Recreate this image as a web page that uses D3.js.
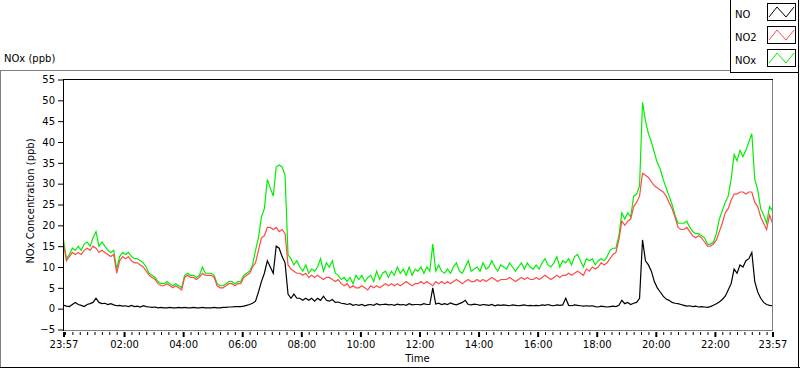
<!DOCTYPE html>
<html>
<head>
<meta charset="utf-8">
<script src="https://cdnjs.cloudflare.com/ajax/libs/d3/7.8.5/d3.min.js"></script>
<style>
body { margin: 0; background: #fff; }
svg { display: block; font-family: "DejaVu Sans", sans-serif; font-size: 10px; }
</style>
</head>
<body>
<svg id="chart" width="800" height="369"></svg>
<script>

// one reading every 6 minutes from 23:57, one row per hour
let no_values = [
  0.8, 0.6, 0.5, 1, 1.5, 1, 0.8, 0.5, 1, 1.2,
  1.5, 2.5, 1.5, 1.2, 1.3, 1, 1.2, 0.9, 0.7, 0.8,
  0.6, 0.7, 0.5, 0.8, 0.5, 0.6, 0.4, 0.7, 0.5, 0.4,
  0.3, 0.4, 0.2, 0.3, 0.2, 0.2, 0.3, 0.2, 0.2, 0.3,
  0.2, 0.3, 0.2, 0.2, 0.3, 0.2, 0.2, 0.3, 0.2, 0.2,
  0.2, 0.3, 0.2, 0.2, 0.3, 0.3, 0.4, 0.4, 0.5, 0.5,
  0.5, 0.6, 0.8, 1, 1.3, 1.8, 4, 6.5, 8.5, 11.5,
  10, 8.5, 15, 14.5, 12.5, 11, 3.5, 2.5, 3.5, 2.5,
  2.5, 2, 2.5, 2, 2.5, 1.8, 2.5, 2, 3, 2,
  1.8, 2.2, 1.5, 1.6, 1.3, 1.2, 1, 1.2, 0.8, 1,
  0.8, 1, 0.7, 0.9, 1, 0.8, 1.2, 0.9, 1, 1.1,
  0.9, 1, 0.8, 1.1, 0.9, 1, 0.8, 1.2, 0.9, 1,
  1, 0.9, 1.2, 1, 1, 5, 1.1, 1.3, 1, 1.2,
  1, 1.4, 1.1, 0.9, 1.2, 1.5, 2, 1, 0.9, 1.1,
  1, 0.8, 1, 0.9, 0.8, 1, 0.7, 0.9, 0.8, 0.9,
  0.8, 0.7, 0.9, 0.8, 0.7, 0.8, 0.9, 0.7, 0.8, 0.7,
  0.8, 0.7, 0.9, 0.8, 1, 0.8, 0.7, 0.9, 0.8, 0.9,
  2.5, 0.8, 0.7, 0.9, 0.8, 0.7, 0.6, 0.7, 0.6, 0.7,
  0.5, 0.4, 0.6, 0.5, 0.4, 0.5, 0.6, 0.5, 0.8, 2,
  1.2, 1.5, 1, 1.3, 1.5, 2.5, 16.5, 11.5, 10.5, 9,
  6.5, 5, 4, 3, 2.3, 2, 1.5, 1.3, 1.2, 1,
  0.8, 0.6, 0.7, 0.5, 0.6, 0.4, 0.5, 0.4, 0.3, 0.5,
  0.8, 1.2, 1.6, 2.2, 3, 4.5, 6, 9.5, 8.5, 10.5,
  10, 11.5, 12, 13.5, 6.5, 4, 2.5, 1.5, 1, 0.8,
  0.7
]

let no2_values = [
  15.5, 11.5, 12.5, 13.5, 13, 13.5, 13, 14, 14.5, 14,
  15, 14.5, 13.5, 14, 13.5, 13, 12.5, 13, 8.5, 11.5,
  12.5, 12, 12.5, 11.5, 11, 11, 10.5, 10, 9, 8,
  7.5, 7, 6, 5.5, 5.5, 6, 5.5, 5, 5.5, 5,
  4.5, 7.5, 8, 7.5, 7.5, 7, 7.5, 8.5, 8, 8,
  8, 7.5, 5.5, 5, 5, 5.5, 6, 6, 5.5, 6,
  6, 7.5, 8, 8.5, 10, 11, 14, 17, 17.5, 19.5,
  19.5, 19, 19.5, 18.5, 19, 18, 10.5, 9.5, 9, 8.5,
  8.5, 8, 8.5, 7.5, 8, 7.5, 8, 7.5, 7, 7.5,
  7.5, 7, 6.5, 7, 6, 5.5, 6, 5, 5.5, 5,
  5, 5.5, 5, 4.5, 5.5, 5, 5.5, 5, 5.5, 6,
  5.5, 6, 5.5, 6, 5.5, 6, 6.5, 6, 5.5, 6,
  6, 6.5, 6, 6.5, 6, 5.5, 6.5, 6, 6.5, 6,
  6.5, 6, 6.5, 7, 6.5, 6, 6.5, 7, 6.5, 6.5,
  7, 6.5, 7, 6.5, 7, 7.5, 7, 6.5, 7, 7,
  7, 7.5, 7, 6.5, 7, 7.5, 7, 7.5, 7, 7,
  7.5, 7, 7.5, 8, 7.5, 7, 7.5, 8, 7.5, 8,
  8, 8.5, 8, 8.5, 9, 8.5, 8, 9.5, 9, 10,
  9.5, 10, 11, 10.5, 11, 12, 13, 13.5, 16.5, 21,
  20, 21, 21.5, 24.5, 25.5, 27, 32.5, 32, 31.5, 30.5,
  29.5, 29, 28.5, 28, 27, 25.5, 24, 22, 19.5, 19,
  19, 19.5, 18.5, 17.5, 17, 17.5, 17, 16, 15, 15,
  15.5, 16.5, 18.5, 20.5, 23, 24, 26, 27.5, 27.5, 28,
  28, 27.5, 28, 28, 25.5, 24.5, 22, 20.5, 19, 22.5,
  20.5
]

let nox_values = [
  16.5, 12, 13, 14.5, 14, 15, 14, 15.5, 16, 15,
  17, 18.5, 15, 16, 15, 14, 13.5, 14, 9.5, 12.5,
  13.5, 13, 13.5, 12.5, 12, 12, 11.5, 11, 10, 8.5,
  8, 7.5, 6.5, 6, 6, 6.5, 6, 5.5, 6, 5.5,
  5, 8, 8.5, 8, 8, 7.5, 8, 10, 8.5, 8.5,
  8.5, 8, 6, 5.5, 5.5, 6, 6.5, 6.5, 6, 6.5,
  6.5, 8, 8.5, 9, 10.5, 14, 17, 22, 24, 31,
  29, 27, 34, 34.5, 34, 32, 13, 12, 10.5, 11.5,
  10, 9, 10.5, 8.5, 9.5, 9, 10, 12, 9, 11,
  10, 11.5, 8.5, 8, 7, 7.5, 6.5, 7.5, 6, 8,
  7, 8, 6.5, 7.5, 8, 6.5, 9, 7, 8.5, 9,
  7.5, 9, 8, 10, 8.5, 9.5, 8, 10, 8, 9.5,
  9, 10, 8.5, 10, 9, 15.5, 9, 10.5, 9, 8.5,
  9.5, 8.5, 10, 11, 9, 8.5, 10, 11.5, 9, 9.5,
  10, 9, 11, 9.5, 10, 11.5, 10, 9, 10.5, 10,
  9.5, 11, 10, 9, 10, 11, 9.5, 11, 10, 9.5,
  10.5, 9.5, 11, 12, 10.5, 10, 11, 12.5, 10, 11.5,
  11, 12, 10.5, 12.5, 13, 11.5, 10, 12, 11.5, 12,
  10.5, 11.5, 12, 11.5, 12.5, 14, 14.5, 14.5, 17.5, 23,
  21.5, 23, 22, 27, 27.5, 29.5, 49.5, 45, 42, 40,
  37.5, 35, 33.5, 31, 29, 27, 25, 22.5, 20.5, 20.5,
  20.5, 21, 19.5, 18.5, 18, 18, 17.5, 17, 15.5, 15.5,
  16, 18, 21.5, 23.5, 25.5, 27, 31, 37, 35.5, 38,
  36.5, 38, 40, 42, 31, 28.5, 24, 22.5, 20.5, 24.5,
  23.5
]

let series_names = ["NO", "NO2", "NOx"]
let series_colors = ["#000000", "#ff4a4a", "#00ee00"]

let y_ticks = [-5, 0, 5, 10, 15, 20, 25, 30, 35, 40, 45, 50, 55]
let x_tick_labels = ["23:57", "02:00", "04:00", "06:00", "08:00", "10:00", "12:00",
  "14:00", "16:00", "18:00", "20:00", "22:00", "23:57"]

let step_minutes = 6

let svg = d3.select("#chart")

let plot_left = 63, plot_right = 772, plot_top = 79, plot_bottom = 330

let start_time = new Date(2024, 0, 1, 23, 57)
let end_time = new Date(2024, 0, 2, 23, 57)

let times = no_values.map((d, i) => d3.timeMinute.offset(start_time, i * step_minutes))

let x = d3.scaleTime().domain([start_time, end_time]).range([plot_left + 0.5, plot_right + 0.5])
let y = d3.scaleLinear().domain([-5, 55]).range([plot_bottom - 0.5, plot_top + 0.5])

// outer frame and legend box
svg.append("line").attr("x1", 0).attr("x2", 730).attr("y1", 70.5).attr("y2", 70.5).attr("stroke", "#808080")
svg.append("line").attr("x1", 0.5).attr("x2", 0.5).attr("y1", 70).attr("y2", 368).attr("stroke", "#808080")
svg.append("line").attr("x1", 0).attr("x2", 800).attr("y1", 367.5).attr("y2", 367.5).attr("stroke", "#000")
svg.append("line").attr("x1", 798.5).attr("x2", 798.5).attr("y1", 0).attr("y2", 368).attr("stroke", "#000")
svg.append("line").attr("x1", 730.5).attr("x2", 730.5).attr("y1", 0).attr("y2", 73).attr("stroke", "#000")
svg.append("line").attr("x1", 730).attr("x2", 799).attr("y1", 72.5).attr("y2", 72.5).attr("stroke", "#000")

svg.append("text").attr("x", 4).attr("y", 62).text("NOx (ppb)")

// plot area border
svg.append("line").attr("x1", plot_left).attr("x2", plot_right + 1).attr("y1", plot_top + 0.5).attr("y2", plot_top + 0.5).attr("stroke", "#000")
svg.append("line").attr("x1", plot_left + 0.5).attr("x2", plot_left + 0.5).attr("y1", plot_top).attr("y2", plot_bottom + 1).attr("stroke", "#000")
svg.append("line").attr("x1", plot_right + 0.5).attr("x2", plot_right + 0.5).attr("y1", plot_top + 1).attr("y2", plot_bottom + 1).attr("stroke", "#808080")
svg.append("line").attr("x1", plot_left + 1).attr("x2", plot_right + 1).attr("y1", plot_bottom + 0.5).attr("y2", plot_bottom + 0.5).attr("stroke", "#808080")

// axes
let y_axis = svg.append("g")
  .attr("transform", "translate(" + plot_left + ",0)")
  .call(d3.axisLeft(y).tickValues(y_ticks).tickSize(5).tickPadding(3))
y_axis.select(".domain").remove()
y_axis.selectAll("text").attr("font-family", "DejaVu Sans").attr("font-size", 10).attr("fill", "#000")

let x_tick_dates = x_tick_labels.map((s, i) => {
  let p = s.split(":")
  return new Date(2024, 0, i == 0 ? 1 : 2, +p[0], +p[1])
})

let minor_dates = d3.timeMinute.every(15).range(start_time, end_time)
  .filter(d => x_tick_dates.every(m => Math.abs(m - d) > 60000 * 2))

let x_minor = svg.append("g")
  .attr("transform", "translate(0," + (plot_bottom + 2) + ")")
  .call(d3.axisBottom(x).tickValues(minor_dates).tickSize(3).tickFormat(""))
x_minor.select(".domain").remove()

let x_axis = svg.append("g")
  .attr("transform", "translate(0," + (plot_bottom + 2) + ")")
  .call(d3.axisBottom(x).tickValues(x_tick_dates).tickSize(5).tickFormat((d, i) => x_tick_labels[i]))
x_axis.select(".domain").remove()
x_axis.selectAll("line").attr("stroke-width", 2)
x_axis.selectAll("text").attr("y", 16).attr("dy", null)
  .attr("font-family", "DejaVu Sans").attr("font-size", 10).attr("fill", "#000")

svg.append("text").attr("x", (plot_left + plot_right) / 2).attr("y", 362).attr("text-anchor", "middle").text("Time")
svg.append("text")
  .attr("transform", "translate(34," + 201 + ") rotate(-90)")
  .attr("text-anchor", "middle")
  .text("NOx Concentration (ppb)")

// lines
svg.append("clipPath").attr("id", "plot-clip")
  .append("rect").attr("x", plot_left + 1).attr("y", plot_top + 1)
  .attr("width", plot_right - plot_left - 1).attr("height", plot_bottom - plot_top - 1)

let line = d3.line().x((d, i) => x(times[i])).y(d => y(d))

let all_series = [no_values, no2_values, nox_values]

let plot_g = svg.append("g").attr("clip-path", "url(#plot-clip)")
;[2, 1, 0].forEach(k => {
  plot_g.append("path")
    .attr("d", line(all_series[k]))
    .attr("fill", "none")
    .attr("stroke", series_colors[k])
    .attr("stroke-width", 1.2)
})

// legend
let legend_rows = svg.append("g").selectAll("g")
  .data(series_names)
  .join("g")
  .attr("transform", (d, i) => "translate(0," + (i * 23) + ")")

legend_rows.append("text").attr("x", 735).attr("y", 17.5).text(d => d)
legend_rows.append("rect")
  .attr("x", 767.5).attr("y", 3.5).attr("width", 28).attr("height", 17)
  .attr("fill", "#fff").attr("stroke", "#000")
legend_rows.append("path")
  .attr("d", "M769,17 L777,7 L786,17 L794,7")
  .attr("fill", "none")
  .attr("stroke", (d, i) => series_colors[i])

</script>
</body>
</html>
